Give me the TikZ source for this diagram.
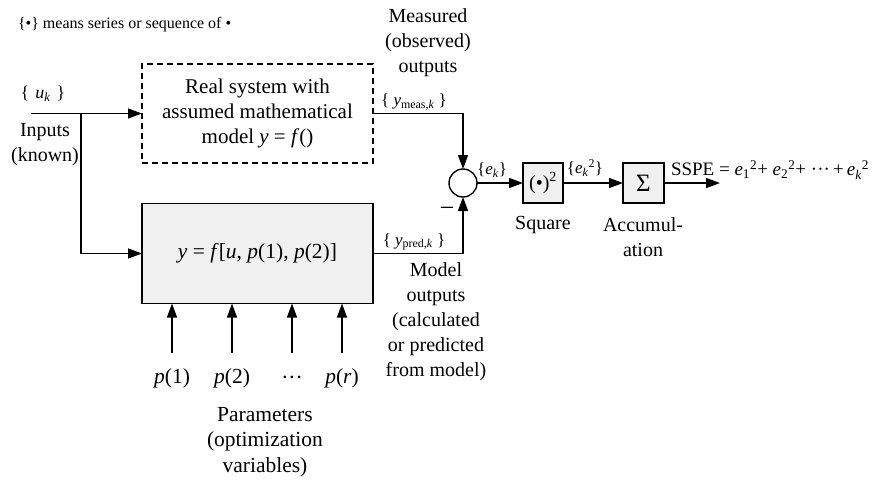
\documentclass[tikz,border=0pt]{standalone}
\usepackage{fontspec}
\setmainfont{Liberation Serif}
\usetikzlibrary{arrows.meta}
\definecolor{boxgray}{HTML}{F0F0F0}
\newcommand{\subk}[1]{\textsubscript{#1}}
\begin{document}
\begin{tikzpicture}[x=1pt,y=-1pt,
  every node/.style={inner sep=0pt, outer sep=0pt, font=\fontsize{20}{25}\selectfont},
  arr/.style={line width=1.4pt, -{Triangle[length=14pt,width=10pt]}},
  blockbox/.style={draw, line width=1.4pt, fill=boxgray},
  lbl/.style={align=center},
  big/.style={font=\fontsize{21.5}{25.5}\selectfont},
  small/.style={font=\fontsize{17}{20}\selectfont}
]
\useasboundingbox (0,0) rectangle (882,483);

% legend
\node[anchor=west, font=\fontsize{16}{19}\selectfont] (legend) at (18,25) {\{•\} means series or sequence of •};

% blocks
\node[draw, dash pattern=on 6pt off 4pt, line width=1.4pt, minimum width=231pt, minimum height=99pt, lbl, font=\fontsize{21}{25}\selectfont] (real) at (257.5,113.5)
  {Real system with\\assumed mathematical\\model \textit{y} = \textit{f}()};
\node[blockbox, big, minimum width=231pt, minimum height=100pt] (model) at (257.5,253.5)
  {\textit{y} = \textit{f}[\textit{u}, \textit{p}(1), \textit{p}(2)]};
\node[circle, draw, line width=1.4pt, minimum size=28pt] (sum) at (463,183) {};
\node[blockbox, minimum width=40pt, minimum height=40pt] (sq) at (543,183) {(•)\textsuperscript{2}};
\node[blockbox, minimum width=41pt, minimum height=40pt, font=\fontsize{25}{25}\selectfont] (acc) at (643.5,183) {Σ};

% coordinates
\coordinate (in0) at (31,113.5);
\coordinate (br) at (81,113.5);
\coordinate (out) at (720,183);

% connectors
\draw[arr] (in0) -- (real.west);
\draw[arr] (br) |- (model.west);
\draw[arr] (real.east) -| (sum.north);
\draw[arr] (model.east) -| (sum.south);
\draw[arr] (sum.east) -- (sq.west);
\draw[arr] (sq.east) -- (acc.west);
\draw[arr] (acc.east) -- (out);

% parameter arrows
\foreach \x/\n in {172/p1,232/p2,292/pd,342/pr}{
  \coordinate (\n) at (\x,353);
  \draw[arr] (\n) -- (\n |- model.south);
}
\node[big] (lp1) at (172,378) {\textit{p}(1)};
\node[big] (lp2) at (232,378) {\textit{p}(2)};
\node[big] (lpd) at (292,380) {···};
\node[big] (lpr) at (342,378) {\textit{p}(\textit{r})};
\node[lbl, big] (params) at (265,442) {Parameters\\(optimization\\variables)};

% labels
\node[font=\fontsize{18}{20}\selectfont] (uk) at (43,94) {\{\,\,\textit{u}\subk{\textit{k}}\,\,\}};
\node[lbl] (inputs) at (45,145) {Inputs\\(known)};
\node[lbl] (meas) at (428,43) {Measured\\(observed)\\outputs};
\node[small] (ymeas) at (414,102) {\{ \textit{y}\subk{meas,\textit{k}} \}};
\node[small] (ypred) at (414,242) {\{ \textit{y}\subk{pred,\textit{k}} \}};
\node[lbl] (modout) at (436,322) {Model\\outputs\\(calculated\\or predicted\\from model)};
\node[font=\fontsize{26}{26}\selectfont] (minus) at (447,212) {−};
\node[small] (ek) at (492,170) {\{\textit{e}\subk{\textit{k}}\}};
\node[small] (ek2) at (585,168) {\{\textit{e}\subk{\textit{k}}\textsuperscript{2}\}};
\node[anchor=west, font=\fontsize{19}{20}\selectfont] (sspe) at (671,170) {SSPE = \textit{e}\subk{1}\textsuperscript{2}+ \textit{e}\subk{2}\textsuperscript{2}+ ···\,+\,\textit{e}\subk{\textit{k}}\textsuperscript{2}};
\node (square) at (543,225) {Square};
\node[lbl] (accl) at (643,237) {Accumul-\\ation};
\end{tikzpicture}
\end{document}
